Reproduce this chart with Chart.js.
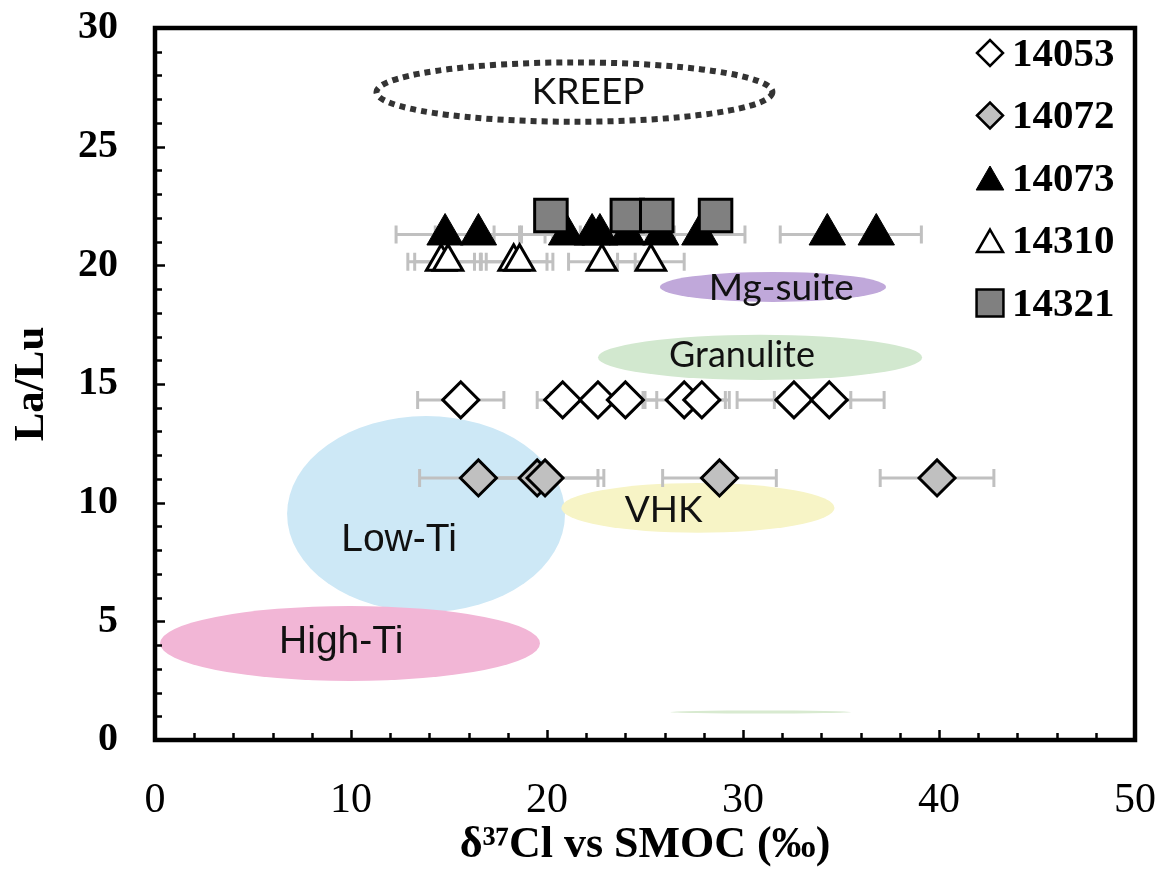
<!DOCTYPE html>
<html>
<head>
<meta charset="utf-8">
<script src="https://cdn.jsdelivr.net/npm/chart.js@4/dist/chart.umd.min.js"></script>
<style>
  html, body { margin: 0; padding: 0; background: #ffffff; }
  canvas { display: block; }
</style>
</head>
<body>
<canvas id="chart" width="1165" height="873"></canvas>
<script>
// Sample names (legend order)
const sampleNames = ['14053', '14072', '14073', '14310', '14321'];

// δ37Cl (‰) values for each sample, with La/Lu ratio of each sample
const cl14053 = [15.6, 20.8, 22.6, 24.0, 27.0, 27.9, 32.6, 34.4];
const err14053 = [2.2, 1.3, 2.4, 1.6, 2.1, 1.4, 2.9, 2.8];
const laLu14053 = 14.33;

const cl14072 = [16.5, 19.5, 19.9, 28.8, 39.9];
const err14072 = [3.0, 3.1, 3.0, 2.9, 2.9];
const laLu14072 = 11.04;

const cl14073 = [14.8, 16.5, 21.0, 22.3, 22.7, 24.1, 25.8, 27.8, 34.3, 36.8];
const err14073 = [2.5, 2.2, 2.4, 2.4, 2.4, 2.4, 2.4, 2.3, 2.4, 2.3];
const laLu14073 = 21.3;

const cl14310 = [14.6, 14.95, 18.3, 18.6, 22.8, 25.3];
const err14310 = [1.7, 1.7, 1.7, 1.7, 1.7, 1.7];
const laLu14310 = 20.15;

const cl14321 = [20.2, 24.1, 25.6, 28.6];
const laLu14321 = 22.1;

// Axis ticks
const xTicks = [0, 10, 20, 30, 40, 50];
const yTicks = [0, 5, 10, 15, 20, 25, 30];

// Lunar rock reference fields (centre and half-axes in data units)
const fieldNames = ['Low-Ti', 'High-Ti', 'VHK', 'Granulite', 'Mg-suite', 'KREEP', ''];
const fieldCl    = [13.83, 9.95, 27.7, 30.87, 31.53, 21.4, 30.9];
const fieldLaLu  = [9.52, 4.07, 9.78, 16.12, 19.09, 27.3, 1.18];
const fieldHalfCl   = [7.09, 9.69, 6.97, 8.27, 5.77, 10.1, 4.6];
const fieldHalfLaLu = [4.13, 1.58, 1.05, 0.95, 0.63, 1.25, 0.06];
const fieldLabelCl   = [12.45, 9.5, 25.95, 29.95, 31.95, 22.1, null];
const fieldLabelLaLu = [8.4, 4.13, 9.7, 16.2, 19.05, 27.3, null];

const fieldStyle = [
  { fill: '#cde8f6', font: '400 39px "Liberation Sans", Arial, sans-serif' },
  { fill: '#f2b6d6', font: '400 39px "Liberation Sans", Arial, sans-serif' },
  { fill: '#f7f4c6', font: '400 37px Lato, sans-serif' },
  { fill: '#d2e8cf', font: '400 36px Lato, sans-serif' },
  { fill: '#c0a8da', font: '400 37px Lato, sans-serif' },
  { fill: '#ffffff', stroke: '#333333', font: '400 37px Lato, sans-serif' },
  { fill: '#d8ead0' }
];

const pointLook = [
  { pointStyle: 'rectRot', radius: 18, backgroundColor: '#ffffff', borderColor: '#000000', borderWidth: 3 },
  { pointStyle: 'rectRot', radius: 18, backgroundColor: '#c0c0c0', borderColor: '#000000', borderWidth: 3 },
  { pointStyle: 'triangle', radius: 21, backgroundColor: '#000000', borderColor: '#000000', borderWidth: 1 },
  { pointStyle: 'triangle', radius: 17, backgroundColor: '#ffffff', borderColor: '#000000', borderWidth: 3 },
  { pointStyle: 'rect', radius: 23, backgroundColor: '#808080', borderColor: '#000000', borderWidth: 3 }
];
const legendLook = [
  { radius: 13, borderWidth: 2.5 },
  { radius: 13, borderWidth: 2.5 },
  { radius: 16, borderWidth: 1 },
  { radius: 15, borderWidth: 2.5 },
  { radius: 19, borderWidth: 2.5 }
];

const clValues = [cl14053, cl14072, cl14073, cl14310, cl14321];
const clErrors = [err14053, err14072, err14073, err14310, null];
const laLuValues = [laLu14053, laLu14072, laLu14073, laLu14310, laLu14321];

const datasets = sampleNames.map((name, i) => ({
  label: name,
  data: clValues[i].map(v => ({ x: v, y: laLuValues[i] })),
  pointStyle: pointLook[i].pointStyle,
  pointRadius: pointLook[i].radius,
  pointHoverRadius: pointLook[i].radius,
  pointBackgroundColor: pointLook[i].backgroundColor,
  pointBorderColor: pointLook[i].borderColor,
  pointBorderWidth: pointLook[i].borderWidth,
  showLine: false,
  order: sampleNames.length - i,
  errors: clErrors[i]
}));

// Reference fields and horizontal error bars, drawn beneath the markers
const fieldsAndErrors = {
  id: 'fieldsAndErrors',
  beforeDatasetsDraw(chart) {
    const { ctx, chartArea: a, scales: { x, y } } = chart;
    ctx.save();
    ctx.beginPath();
    ctx.rect(a.left, a.top, a.right - a.left, a.bottom - a.top);
    ctx.clip();

    fieldNames.forEach((name, i) => {
      const cx = x.getPixelForValue(fieldCl[i]);
      const cy = y.getPixelForValue(fieldLaLu[i]);
      const rx = Math.abs(x.getPixelForValue(fieldCl[i] + fieldHalfCl[i]) - cx);
      const ry = Math.max(1.5, Math.abs(y.getPixelForValue(fieldLaLu[i] + fieldHalfLaLu[i]) - cy));
      const st = fieldStyle[i];
      ctx.beginPath();
      ctx.ellipse(cx, cy, rx, ry, 0, 0, Math.PI * 2);
      ctx.fillStyle = st.fill;
      ctx.fill();
      if (st.stroke) {
        ctx.setLineDash([6, 5]);
        ctx.lineWidth = 6;
        ctx.strokeStyle = st.stroke;
        ctx.stroke();
        ctx.setLineDash([]);
      }
      if (name) {
        ctx.font = st.font;
        ctx.fillStyle = '#111111';
        ctx.textAlign = 'center';
        ctx.textBaseline = 'middle';
        ctx.fillText(name, x.getPixelForValue(fieldLabelCl[i]), y.getPixelForValue(fieldLabelLaLu[i]));
      }
    });

    ctx.strokeStyle = '#c0c0c0';
    ctx.lineWidth = 3;
    chart.data.datasets.forEach(ds => {
      if (!ds.errors) return;
      ds.data.forEach((p, j) => {
        const e = ds.errors[j];
        const x0 = x.getPixelForValue(p.x - e);
        const x1 = x.getPixelForValue(p.x + e);
        const py = y.getPixelForValue(p.y);
        ctx.beginPath();
        ctx.moveTo(x0, py); ctx.lineTo(x1, py);
        ctx.moveTo(x0, py - 9); ctx.lineTo(x0, py + 9);
        ctx.moveTo(x1, py - 9); ctx.lineTo(x1, py + 9);
        ctx.stroke();
      });
    });
    ctx.restore();
  }
};

// Plot frame with inward minor/major tick marks
const frameAndTicks = {
  id: 'frameAndTicks',
  afterDatasetsDraw(chart) {
    const { ctx, chartArea: a, scales: { x, y } } = chart;
    ctx.save();
    ctx.strokeStyle = '#000000';
    ctx.lineWidth = 2.5;
    ctx.beginPath();
    for (let v = 0; v <= 30; v += 1) {
      const py = Math.round(y.getPixelForValue(v)) + 0.5;
      const len = v % 5 === 0 ? 10 : 7;
      ctx.moveTo(a.left, py); ctx.lineTo(a.left + len, py);
    }
    for (let v = 0; v <= 50; v += 2) {
      const px = Math.round(x.getPixelForValue(v)) + 0.5;
      const len = v % 10 === 0 ? 10 : 7;
      ctx.moveTo(px, a.bottom); ctx.lineTo(px, a.bottom - len);
    }
    ctx.stroke();
    ctx.lineWidth = 4.5;
    ctx.strokeRect(a.left, a.top, a.right - a.left, a.bottom - a.top);
    ctx.restore();
  }
};

// Legend in the upper-right corner of the plot
const cornerLegend = {
  id: 'cornerLegend',
  afterDraw(chart) {
    const { ctx, chartArea: a } = chart;
    const helpers = Chart.helpers;
    ctx.save();
    sampleNames.forEach((name, i) => {
      const cy = a.top + 25 + i * 62.5;
      const mx = a.right - 145;
      const look = pointLook[i];
      ctx.fillStyle = look.backgroundColor;
      ctx.strokeStyle = look.borderColor;
      ctx.lineWidth = legendLook[i].borderWidth;
      helpers.drawPoint(ctx, {
        pointStyle: look.pointStyle,
        radius: legendLook[i].radius,
        borderWidth: legendLook[i].borderWidth,
        rotation: 0
      }, mx, look.pointStyle === 'triangle' ? cy + 4 : cy);
      ctx.fillStyle = '#000000';
      ctx.font = 'bold 41px "Liberation Serif", "Times New Roman", serif';
      ctx.textAlign = 'left';
      ctx.textBaseline = 'middle';
      ctx.fillText(name, mx + 22, cy + 2);
    });
    ctx.restore();
  }
};

new Chart(document.getElementById('chart'), {
  type: 'scatter',
  data: { datasets },
  options: {
    responsive: false,
    animation: false,
    events: [],
    layout: { padding: { top: 28, right: 30, left: 0, bottom: 0 } },
    plugins: {
      legend: { display: false },
      tooltip: { enabled: false }
    },
    scales: {
      x: {
        type: 'linear',
        min: 0, max: 50,
        afterBuildTicks(scale) { scale.ticks = xTicks.map(v => ({ value: v })); },
        afterFit(scale) {
          scale.height = 133;
          scale.paddingLeft = 0;
          scale.paddingRight = 0;
        },
        grid: { display: false, drawTicks: false },
        border: { display: false },
        ticks: {
          padding: 36,
          color: '#000000',
          font: { family: '"Liberation Serif", "Times New Roman", serif', size: 42, weight: 'normal' }
        },
        title: {
          display: true,
          text: 'δ³⁷Cl vs SMOC (‰)',
          color: '#000000',
          padding: { top: 0, bottom: 1 },
          font: { family: '"Liberation Serif", "Times New Roman", serif', size: 44, weight: 'bold' }
        }
      },
      y: {
        type: 'linear',
        min: 0, max: 30,
        afterBuildTicks(scale) { scale.ticks = yTicks.map(v => ({ value: v })); },
        afterFit(scale) {
          scale.width = 155;
          scale.paddingTop = 0;
          scale.paddingBottom = 0;
        },
        grid: { display: false, drawTicks: false },
        border: { display: false },
        ticks: {
          padding: 37,
          color: '#000000',
          font: { family: '"Liberation Serif", "Times New Roman", serif', size: 40, weight: 'bold' }
        },
        title: {
          display: true,
          text: 'La/Lu',
          color: '#000000',
          padding: { top: 6, bottom: 0 },
          font: { family: '"Liberation Serif", "Times New Roman", serif', size: 43, weight: 'bold' }
        }
      }
    }
  },
  plugins: [fieldsAndErrors, frameAndTicks, cornerLegend]
});
</script>
</body>
</html>
